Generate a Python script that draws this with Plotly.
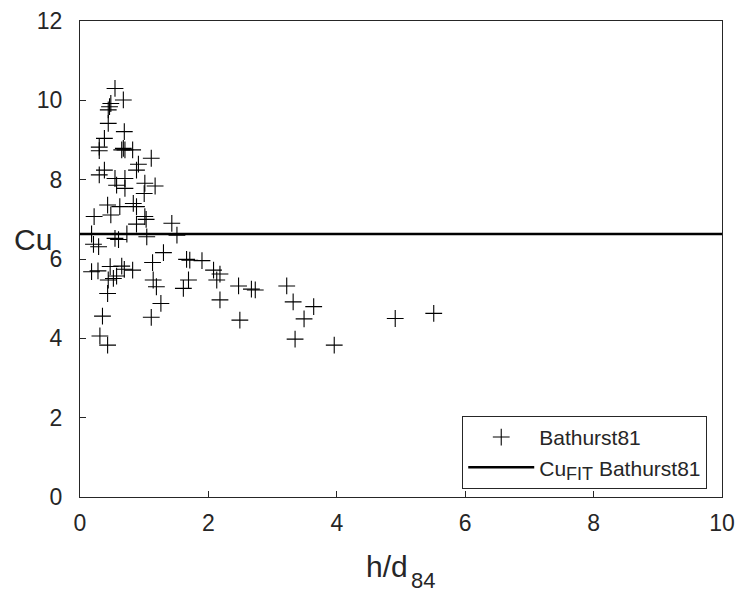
import plotly.graph_objects as go

hd84 = [0.545, 0.675, 0.48, 0.46, 0.44, 0.44, 0.69, 0.38, 0.30, 0.30,
        0.65, 0.70, 0.82, 0.675, 1.11, 0.91, 0.88, 0.38, 0.30, 0.545,
        0.70, 1.01, 1.17, 0.57, 0.70, 1.00, 0.43, 0.62, 0.83, 0.88,
        0.22, 0.48, 1.01, 0.88, 1.03, 1.43, 0.18, 0.545, 0.60, 0.73,
        1.04, 1.51, 0.21, 0.29, 1.30, 1.13, 1.66, 1.71, 0.18, 0.28,
        0.47, 0.65, 0.69, 0.82, 0.44, 0.52, 0.57, 1.14, 1.19, 1.69,
        1.61, 0.43, 1.26, 0.35, 1.11, 0.31, 0.43, 1.90, 2.08, 2.18,
        2.13, 2.47, 2.67, 2.73, 2.18, 2.49, 3.22, 3.32, 3.64, 3.49,
        3.35, 3.96, 4.91, 5.51]
cu = [10.30, 10.01, 9.92, 9.84, 9.76, 9.42, 9.21, 9.04, 8.82, 8.73,
      8.75, 8.75, 8.75, 8.79, 8.54, 8.39, 8.24, 8.24, 8.12, 8.03,
      8.03, 7.91, 7.84, 7.86, 7.78, 7.65, 7.36, 7.32, 7.40, 7.32,
      7.07, 7.11, 7.07, 6.88, 7.00, 6.90, 6.63, 6.52, 6.49, 6.63,
      6.56, 6.60, 6.37, 6.31, 6.16, 5.91, 5.99, 5.97, 5.68, 5.70,
      5.81, 5.82, 5.74, 5.72, 5.47, 5.51, 5.57, 5.47, 5.30, 5.47,
      5.26, 5.13, 4.88, 4.56, 4.53, 4.06, 3.83, 5.96, 5.72, 5.62,
      5.47, 5.32, 5.24, 5.22, 4.97, 4.46, 5.32, 4.92, 4.80, 4.49,
      3.98, 3.83, 4.50, 4.63]
fit_x = [0, 10]
fit_cu = [6.63, 6.63]
x_ticks = [0, 2, 4, 6, 8, 10]
y_ticks = [0, 2, 4, 6, 8, 10, 12]

FONT = "Liberation Sans, Arial, sans-serif"
AX = "#262626"

fig = go.Figure()
fig.add_trace(go.Scatter(
    x=hd84, y=cu, mode="markers", name="Bathurst81",
    marker=dict(symbol="cross-thin", size=12, color="black",
                line=dict(color="black", width=1.1)),
))
fig.add_trace(go.Scatter(
    x=fit_x, y=fit_cu, mode="lines",
    name="Cu<sub><span style='font-size:18px'>FIT</span></sub> Bathurst81",
    line=dict(color="black", width=2.5),
))

axis_common = dict(
    showgrid=False, zeroline=False, showline=True, linecolor=AX,
    linewidth=1, mirror=True, ticks="inside", ticklen=6,
    tickcolor=AX, tickfont=dict(family=FONT, size=23, color=AX),
    automargin=False,
)
fig.update_xaxes(range=[0, 10], tickvals=x_ticks, ticklabelstandoff=5,
                 **axis_common)
fig.update_yaxes(range=[0, 12], tickvals=y_ticks, ticklabelstandoff=12,
                 **axis_common)

fig.update_layout(
    width=740, height=595,
    margin=dict(l=80, r=18, t=21, b=98),
    plot_bgcolor="white", paper_bgcolor="white",
    font=dict(family=FONT, color=AX),
    legend=dict(
        x=0.977, y=0.017, xanchor="right", yanchor="bottom",
        bordercolor=AX, borderwidth=1, bgcolor="white",
        font=dict(family=FONT, size=21, color=AX),
        tracegroupgap=0, itemwidth=66,
    ),
    annotations=[
        dict(text="Cu", xref="paper", yref="y", x=-0.04, y=6.48,
             xanchor="right", yanchor="middle", showarrow=False,
             font=dict(family=FONT, size=30, color=AX)),
        dict(text="h/d", xref="paper", yref="paper",
             x=0.514, y=-0.145, xanchor="right", yanchor="middle",
             showarrow=False, font=dict(family=FONT, size=30, color=AX)),
        dict(text="84", xref="paper", yref="paper",
             x=0.512, y=-0.176, xanchor="left", yanchor="middle",
             showarrow=False, font=dict(family=FONT, size=22, color=AX)),
    ],
)

fig.write_html("out.html")
